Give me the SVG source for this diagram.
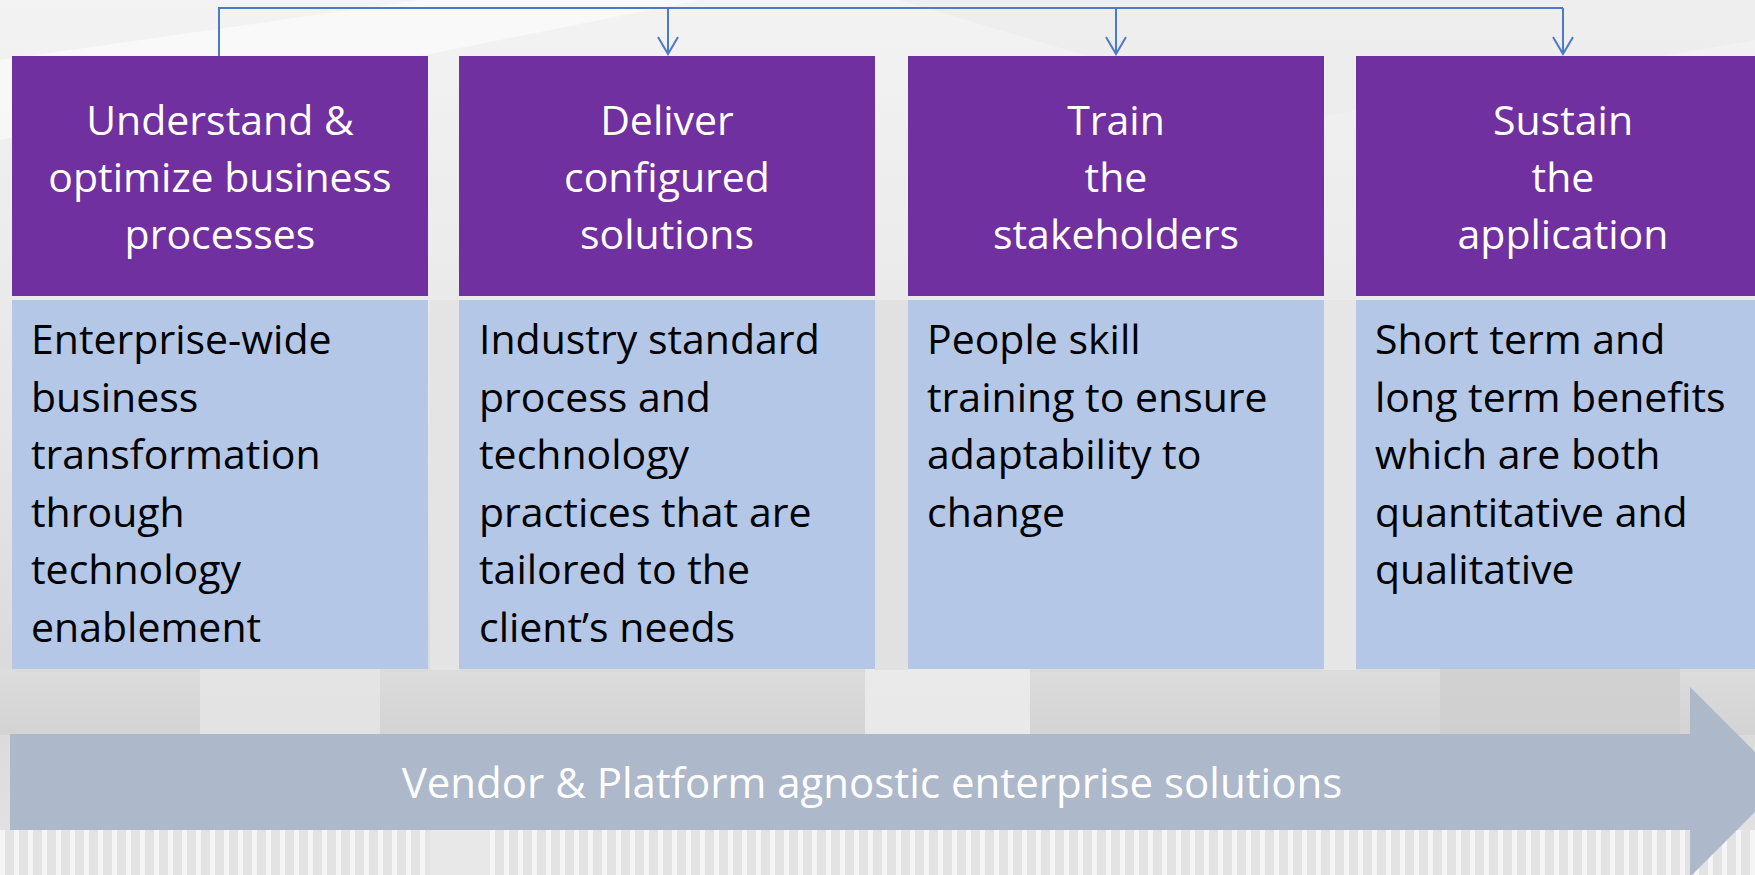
<svg xmlns="http://www.w3.org/2000/svg" width="1755" height="875" viewBox="0 0 1755 875">
  <defs>
    <linearGradient id="bg" x1="0" y1="0" x2="0" y2="1">
      <stop offset="0" stop-color="#f3f3f3"/>
      <stop offset="0.5" stop-color="#e6e6e6"/>
      <stop offset="0.8" stop-color="#d9d9d9"/>
      <stop offset="1" stop-color="#e4e4e4"/>
    </linearGradient>
    <linearGradient id="band" x1="0" y1="0" x2="0" y2="1">
      <stop offset="0" stop-color="#dcdcdc"/>
      <stop offset="1" stop-color="#d3d3d3"/>
    </linearGradient>
    <pattern id="rail" x="0" y="0" width="14" height="60" patternUnits="userSpaceOnUse">
      <rect width="14" height="60" fill="#e3e3e3"/>
      <rect x="0" width="5" height="60" fill="#f5f5f5"/>
    </pattern>
    <marker id="arr" markerWidth="24" markerHeight="20" refX="11" refY="18" orient="0" markerUnits="userSpaceOnUse">
      <path d="M1,1 L11,18 L21,1" fill="none" stroke="#4a7ac8" stroke-width="2"/>
    </marker>
    <style>
      .head { fill: #7030a0; }
      .body { fill: #b4c7e7; }
      .ht { font-family: "Open Sans", "Liberation Sans", sans-serif; font-size: 41px; fill: #ffffff; text-anchor: middle; }
      .bt { font-family: "Open Sans", "Liberation Sans", sans-serif; font-size: 41px; fill: #000000; }
      .conn { fill: none; stroke: #4a7ac8; stroke-width: 2; }
    </style>
  </defs>

  <!-- background (photo-like) -->
  <g id="background">
    <rect width="1755" height="875" fill="url(#bg)"/>
    <path d="M0,60 L420,0 L700,0 L0,140 Z" fill="#ffffff" opacity="0.5"/>
    <path d="M900,0 L1755,0 L1755,40 L1300,120 Z" fill="#ebebeb" opacity="0.6"/>
    <rect x="0" y="669" width="1755" height="66" fill="url(#band)"/>
    <rect x="200" y="669" width="180" height="66" fill="#e6e6e6" opacity="0.8"/>
    <rect x="865" y="669" width="165" height="66" fill="#eeeeee" opacity="0.8"/>
    <rect x="1440" y="669" width="240" height="66" fill="#cdcdcd" opacity="0.7"/>
    <rect x="0" y="830" width="1755" height="45" fill="url(#rail)"/>
    <rect x="430" y="830" width="60" height="45" fill="#e8e8e8"/>
    <rect x="430" y="300" width="30" height="370" fill="#e4e4e4"/>
    <rect x="875" y="300" width="33" height="370" fill="#e1e1e1"/>
    <rect x="1323" y="300" width="33" height="370" fill="#e6e6e6"/>
  </g>

  <!-- bottom arrow -->
  <g id="platform-arrow">
    <path d="M10,734 L1690,734 L1690,687 L1785,782 L1690,877 L1690,830 L10,830 Z" fill="#adb8ca"/>
    <text x="872" y="798" font-family="'Open Sans','Liberation Sans',sans-serif" font-size="42" fill="#ffffff" text-anchor="middle">Vendor &amp; Platform agnostic enterprise solutions</text>
  </g>

  <!-- connectors -->
  <g id="connectors">
    <path class="conn" d="M219,56 L219,8 L1563,8"/>
    <path class="conn" d="M668,8 L668,54" marker-end="url(#arr)"/>
    <path class="conn" d="M1116,8 L1116,54" marker-end="url(#arr)"/>
    <path class="conn" d="M1563,8 L1563,54" marker-end="url(#arr)"/>
  </g>

  <g id="node-understand">
    <rect class="head" x="12" y="56" width="416" height="240"/>
    <text class="ht"><tspan x="220" y="135">Understand &amp;</tspan><tspan x="220" y="192">optimize business</tspan><tspan x="220" y="249">processes</tspan></text>
    <rect class="body" x="12" y="300" width="416" height="369"/>
    <text class="bt"><tspan x="31" y="354">Enterprise-wide</tspan><tspan x="31" y="412">business</tspan><tspan x="31" y="469">transformation</tspan><tspan x="31" y="527">through</tspan><tspan x="31" y="584">technology</tspan><tspan x="31" y="642">enablement</tspan></text>
  </g>

  <g id="node-deliver">
    <rect class="head" x="459" y="56" width="416" height="240"/>
    <text class="ht"><tspan x="667" y="135">Deliver</tspan><tspan x="667" y="192">configured</tspan><tspan x="667" y="249">solutions</tspan></text>
    <rect class="body" x="459" y="300" width="416" height="369"/>
    <text class="bt"><tspan x="479" y="354">Industry standard</tspan><tspan x="479" y="412">process and</tspan><tspan x="479" y="469">technology</tspan><tspan x="479" y="527">practices that are</tspan><tspan x="479" y="584">tailored to the</tspan><tspan x="479" y="642">client’s needs</tspan></text>
  </g>

  <g id="node-train">
    <rect class="head" x="908" y="56" width="416" height="240"/>
    <text class="ht"><tspan x="1116" y="135">Train</tspan><tspan x="1116" y="192">the</tspan><tspan x="1116" y="249">stakeholders</tspan></text>
    <rect class="body" x="908" y="300" width="416" height="369"/>
    <text class="bt"><tspan x="927" y="354">People skill</tspan><tspan x="927" y="412">training to ensure</tspan><tspan x="927" y="469">adaptability to</tspan><tspan x="927" y="527">change</tspan></text>
  </g>

  <g id="node-sustain">
    <rect class="head" x="1356" y="56" width="420" height="240"/>
    <text class="ht"><tspan x="1563" y="135">Sustain</tspan><tspan x="1563" y="192">the</tspan><tspan x="1563" y="249">application</tspan></text>
    <rect class="body" x="1356" y="300" width="420" height="369"/>
    <text class="bt"><tspan x="1375" y="354">Short term and</tspan><tspan x="1375" y="412">long term benefits</tspan><tspan x="1375" y="469">which are both</tspan><tspan x="1375" y="527">quantitative and</tspan><tspan x="1375" y="584">qualitative</tspan></text>
  </g>
</svg>
